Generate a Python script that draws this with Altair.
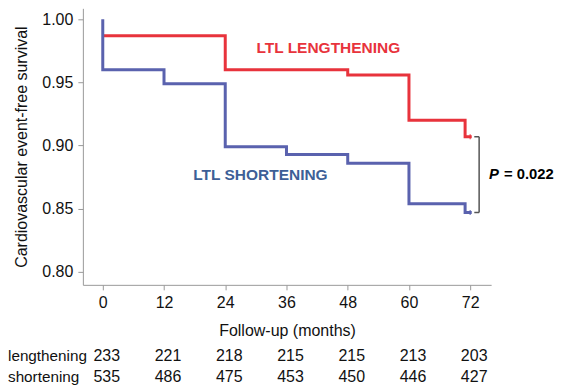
import altair as alt
import pandas as pd

# Kaplan-Meier step data (months, survival)
len_months = [0, 24, 48, 60, 71, 72.3]
len_surv = [0.987, 0.960, 0.956, 0.920, 0.907, 0.907]
short_months = [0, 0, 12, 24, 36, 48, 60, 71, 72.3]
short_surv = [1.000, 0.960, 0.949, 0.899, 0.893, 0.886, 0.854, 0.847, 0.847]

risk_months = [0, 12, 24, 36, 48, 60, 72]
risk_lengthening = [233, 221, 218, 215, 215, 213, 203]
risk_shortening = [535, 486, 475, 453, 450, 446, 427]

p_label = "P"
p_value = "= 0.022"

RED = "#E8333C"
BLUE = "#5A62AE"
FONT = "Liberation Sans"

xdom = [-3.9, 76.1]
ydom = [0.7897, 1.0087]
W, H = 409, 277

df_len = pd.DataFrame({"m": len_months, "s": len_surv, "o": range(len(len_months))})
df_short = pd.DataFrame({"m": short_months, "s": short_surv, "o": range(len(short_months))})

xs = alt.Scale(domain=xdom, nice=False, zero=False)
ys = alt.Scale(domain=ydom, nice=False, zero=False)

xaxis = alt.Axis(values=risk_months, title="Follow-up (months)", grid=False,
                 domainColor="#999", tickColor="#999", tickSize=5, labelPadding=5,
                 labelFontSize=16, titleFontSize=16, labelColor="#111", titleColor="#111",
                 labelFont=FONT, titleFont=FONT, titleFontWeight="normal", titlePadding=12)
yaxis = alt.Axis(values=[0.80, 0.85, 0.90, 0.95, 1.00], format=".2f",
                 title="Cardiovascular event-free survival", grid=False,
                 domainColor="#999", tickColor="#999", tickSize=5, labelPadding=5,
                 labelFontSize=16, titleFontSize=16, labelColor="#111", titleColor="#111",
                 labelFont=FONT, titleFont=FONT, titleFontWeight="normal", titlePadding=12)

red_line = alt.Chart(df_len).mark_line(interpolate="step-after", color=RED, strokeWidth=3).encode(
    x=alt.X("m:Q", scale=xs, axis=xaxis),
    y=alt.Y("s:Q", scale=ys, axis=yaxis),
    order="o:Q",
)
blue_line = alt.Chart(df_short).mark_line(interpolate="step-after", color=BLUE, strokeWidth=3).encode(
    x=alt.X("m:Q", scale=xs),
    y=alt.Y("s:Q", scale=ys),
    order="o:Q",
)

# censor ticks at end
cens = pd.DataFrame({"m": [72, 72], "s": [len_surv[-1], short_surv[-1]], "c": [RED, BLUE]})
cens_mark = alt.Chart(cens).mark_tick(thickness=1.5, size=5, orient="vertical").encode(
    x=alt.X("m:Q", scale=xs), y=alt.Y("s:Q", scale=ys), color=alt.Color("c:N", scale=None)
)

labels = pd.DataFrame({"m": [44.2, 30.9], "s": [0.9769, 0.8763],
                       "t": ["LTL LENGTHENING", "LTL SHORTENING"], "c": [RED, "#3D5F97"]})
label_mark = alt.Chart(labels).mark_text(fontSize=15.5, fontWeight="bold", font=FONT).encode(
    x=alt.X("m:Q", scale=xs), y=alt.Y("s:Q", scale=ys), text="t:N", color=alt.Color("c:N", scale=None)
)

# bracket
bx = 73.75
brk_v = alt.Chart(pd.DataFrame({"m": [bx], "a": [len_surv[-1]], "b": [short_surv[-1]]})).mark_rule(
    color="#555", strokeWidth=1.5).encode(
    x=alt.X("m:Q", scale=xs), y=alt.Y("a:Q", scale=ys), y2="b:Q")
brk_h = alt.Chart(pd.DataFrame({"m": [72.8, 72.8], "m2": [bx, bx], "s": [len_surv[-1], short_surv[-1]]})).mark_rule(
    color="#555", strokeWidth=1.5).encode(
    x=alt.X("m:Q", scale=xs), x2="m2:Q", y=alt.Y("s:Q", scale=ys))

p_df = pd.DataFrame({"m": [75.7], "s": [(len_surv[-1] + short_surv[-1]) / 2]})
p_mark = alt.Chart(p_df).mark_text(fontSize=14.8, fontWeight="bold", fontStyle="italic", font=FONT,
                                   align="left", color="#000").encode(
    x=alt.X("m:Q", scale=xs), y=alt.Y("s:Q", scale=ys), text=alt.value(p_label))
p_mark2 = alt.Chart(p_df).mark_text(fontSize=14.8, fontWeight="bold", font=FONT,
                                    align="left", color="#000", dx=15).encode(
    x=alt.X("m:Q", scale=xs), y=alt.Y("s:Q", scale=ys), text=alt.value(p_value))

# number at risk table
rows = []
for m, a, b in zip(risk_months, risk_lengthening, risk_shortening):
    rows.append({"m": m, "n": str(a), "r": "lengthening"})
    rows.append({"m": m, "n": str(b), "r": "shortening"})
risk_df = pd.DataFrame(rows)
y1, y2 = 348, 369
risk_len = alt.Chart(risk_df[risk_df.r == "lengthening"]).mark_text(fontSize=16, font=FONT, color="#111", dx=4).encode(
    x=alt.X("m:Q", scale=xs), y=alt.value(y1), text="n:N")
risk_short = alt.Chart(risk_df[risk_df.r == "shortening"]).mark_text(fontSize=16, font=FONT, color="#111", dx=4).encode(
    x=alt.X("m:Q", scale=xs), y=alt.value(y2), text="n:N")
row_lab = alt.Chart(pd.DataFrame({"r": ["lengthening", "shortening"], "y": [y1, y2]})).mark_text(
    fontSize=15.3, font=FONT, color="#111", align="left").encode(
    x=alt.value(-75), y=alt.Y("y:Q", scale=None), text="r:N")

chart = alt.layer(red_line, blue_line, cens_mark, label_mark, brk_v, brk_h, p_mark, p_mark2,
                  risk_len, risk_short, row_lab).properties(
    width=W, height=H,
    autosize=alt.AutoSizeParams(type="none"),
    padding={"left": 75, "top": 0, "right": 70, "bottom": 102},
    background="white",
).configure_view(strokeWidth=0)

chart.save("out.html", embed_options={"renderer": "svg", "actions": False})
